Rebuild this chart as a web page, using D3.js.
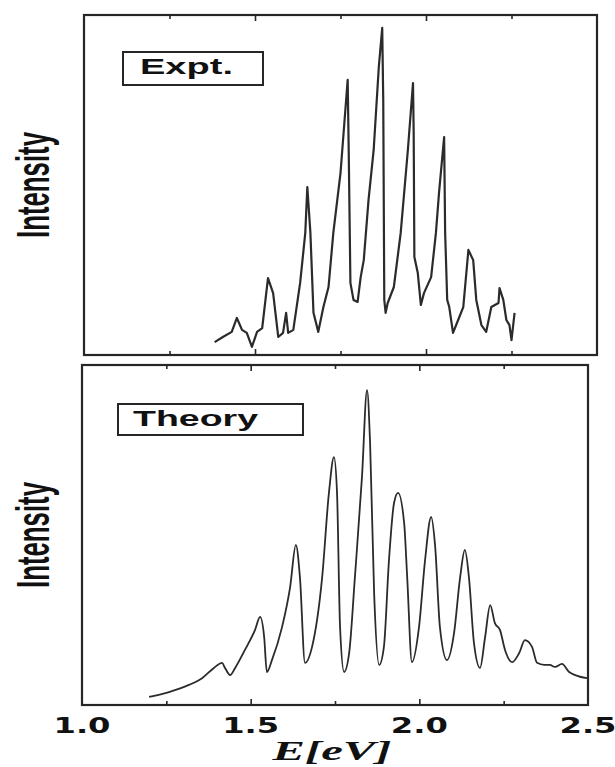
<!DOCTYPE html>
<html>
<head>
<meta charset="utf-8">
<script src="https://cdn.jsdelivr.net/npm/d3@7"></script>
<style>
  html, body { margin: 0; padding: 0; background: #fff; }
  svg { display: block; }
</style>
</head>
<body>
<svg id="chart" width="615" height="767"></svg>
<script>
// Measured spectrum (upper panel): photon energy in eV and normalised intensity
const exptEnergy = [1.382, 1.406, 1.432, 1.447, 1.462, 1.476, 1.491, 1.506, 1.521, 1.538,
  1.553, 1.568, 1.582, 1.591, 1.597, 1.612, 1.632, 1.647, 1.653, 1.662,
  1.671, 1.685, 1.700, 1.715, 1.729, 1.750, 1.759, 1.771, 1.774, 1.779,
  1.788, 1.800, 1.809, 1.818, 1.832, 1.847, 1.862, 1.872, 1.875, 1.878,
  1.882, 1.888, 1.906, 1.926, 1.947, 1.962, 1.964, 1.966, 1.976, 1.985,
  1.994, 2.015, 2.029, 2.038, 2.053, 2.056, 2.062, 2.068, 2.079, 2.094,
  2.109, 2.124, 2.138, 2.147, 2.162, 2.176, 2.191, 2.212, 2.215, 2.226,
  2.235, 2.244, 2.250, 2.259];
const exptIntensity = [0.038, 0.053, 0.068, 0.109, 0.074, 0.065, 0.024, 0.068, 0.079, 0.226,
  0.182, 0.053, 0.065, 0.124, 0.065, 0.074, 0.212, 0.359, 0.494, 0.359,
  0.124, 0.068, 0.141, 0.200, 0.359, 0.535, 0.653, 0.809, 0.603, 0.212,
  0.162, 0.156, 0.229, 0.279, 0.456, 0.603, 0.847, 0.962, 0.750, 0.162,
  0.124, 0.153, 0.200, 0.359, 0.603, 0.800, 0.653, 0.288, 0.241, 0.147,
  0.182, 0.229, 0.359, 0.476, 0.641, 0.359, 0.162, 0.141, 0.065, 0.103,
  0.141, 0.309, 0.279, 0.162, 0.088, 0.068, 0.141, 0.153, 0.197, 0.162,
  0.103, 0.088, 0.044, 0.124];

// Calculated spectrum (lower panel)
const theoryEnergy = [1.199, 1.258, 1.317, 1.356, 1.391, 1.415, 1.424, 1.439, 1.454, 1.483,
  1.513, 1.528, 1.540, 1.548, 1.563, 1.593, 1.617, 1.634, 1.646, 1.661,
  1.682, 1.712, 1.732, 1.747, 1.756, 1.765, 1.777, 1.792, 1.809, 1.830,
  1.845, 1.854, 1.866, 1.881, 1.895, 1.910, 1.925, 1.937, 1.955, 1.964,
  1.978, 1.999, 2.017, 2.035, 2.047, 2.061, 2.082, 2.103, 2.121, 2.135,
  2.147, 2.162, 2.180, 2.195, 2.210, 2.224, 2.239, 2.254, 2.275, 2.296,
  2.313, 2.334, 2.349, 2.370, 2.387, 2.402, 2.423, 2.444, 2.462, 2.497];
const theoryIntensity = [0.024, 0.038, 0.059, 0.079, 0.109, 0.124, 0.109, 0.088, 0.109, 0.162,
  0.221, 0.259, 0.200, 0.097, 0.132, 0.229, 0.347, 0.471, 0.376, 0.124,
  0.171, 0.376, 0.624, 0.729, 0.624, 0.229, 0.097, 0.153, 0.376, 0.671,
  0.926, 0.771, 0.329, 0.118, 0.171, 0.426, 0.594, 0.624, 0.535, 0.376,
  0.126, 0.229, 0.426, 0.553, 0.465, 0.229, 0.132, 0.212, 0.376, 0.456,
  0.376, 0.182, 0.109, 0.200, 0.294, 0.241, 0.221, 0.162, 0.126, 0.153,
  0.191, 0.171, 0.124, 0.118, 0.118, 0.112, 0.121, 0.097, 0.088, 0.079];

const tickLabels = ["1.0", "1.5", "2.0", "2.5"];
const majorTicks = [1.5, 2.0];
const minorTicks = [1.25, 1.75, 2.25];
const xLabel = "E[eV]";
const yLabel = "Intensity";

const svg = d3.select("#chart");
const ink = "#262626";

const panels = [
  { name: "Expt.",  energy: exptEnergy,   value: exptIntensity,   left: 84, right: 597, top: 15,  bottom: 355,
    box: [123, 52, 140, 33], textX: 140, textY: 74, textLen: 93, curve: d3.curveLinear, width: 2.2 },
  { name: "Theory", energy: theoryEnergy, value: theoryIntensity, left: 82, right: 588, top: 365, bottom: 705,
    box: [118, 404, 185, 31], textX: 133, textY: 426, textLen: 125, curve: d3.curveMonotoneX, width: 1.8 }
];

let lastX;
panels.forEach(p => {
  const x = d3.scaleLinear().domain([1.0, 2.5]).range([p.left, p.right]);
  const y = d3.scaleLinear().domain([0, 1]).range([p.bottom, p.top]);
  lastX = x;
  const g = svg.append("g");

  // tick marks on top and bottom edges, pointing inward
  const addTicks = (vals, len) => {
    const bottomAxis = d3.axisBottom(x).tickValues(vals).tickSize(-len).tickFormat("");
    const topAxis = d3.axisTop(x).tickValues(vals).tickSize(-len).tickFormat("");
    [[bottomAxis, p.bottom], [topAxis, p.top]].forEach(([ax, yy]) => {
      const a = g.append("g").attr("transform", `translate(0,${yy})`).call(ax);
      a.select(".domain").remove();
      a.selectAll("line").attr("stroke", ink).attr("stroke-width", 1.6);
    });
  };
  addTicks(majorTicks, 6);
  addTicks(minorTicks, 4);

  // frame
  g.append("rect")
    .attr("x", p.left).attr("y", p.top)
    .attr("width", p.right - p.left).attr("height", p.bottom - p.top)
    .attr("fill", "none").attr("stroke", ink).attr("stroke-width", 2.2);

  // spectrum
  const line = d3.line()
    .x((d, i) => x(p.energy[i]))
    .y((d, i) => y(p.value[i]))
    .curve(p.curve);
  g.append("path")
    .attr("d", line(p.value))
    .attr("fill", "none")
    .attr("stroke", "#2b2b2b")
    .attr("stroke-width", p.width)
    .attr("stroke-linejoin", "round");

  // legend box
  g.append("rect")
    .attr("x", p.box[0]).attr("y", p.box[1])
    .attr("width", p.box[2]).attr("height", p.box[3])
    .attr("fill", "none").attr("stroke", ink).attr("stroke-width", 2);
  g.append("text")
    .attr("x", p.textX).attr("y", p.textY)
    .attr("font-family", "'Liberation Sans', Arial, sans-serif")
    .attr("font-weight", "bold").attr("font-size", 22)
    .attr("textLength", p.textLen).attr("lengthAdjust", "spacingAndGlyphs")
    .attr("fill", "#111")
    .text(p.name);

  // y-axis title
  const cy = (p.top + p.bottom) / 2;
  g.append("text")
    .attr("transform", `translate(49,${cy}) rotate(-90)`)
    .attr("text-anchor", "middle")
    .attr("font-family", "'Liberation Sans Narrow', 'Arial Narrow', 'Liberation Sans', sans-serif")
    .attr("font-weight", "bold").attr("font-size", 47)
    .attr("textLength", 106).attr("lengthAdjust", "spacingAndGlyphs")
    .attr("fill", "#111")
    .text(yLabel);
});

// shared energy labels under the lower panel
svg.append("g").selectAll("text")
  .data(tickLabels)
  .join("text")
  .attr("x", d => lastX(+d))
  .attr("y", 733)
  .attr("text-anchor", "middle")
  .attr("font-family", "'DejaVu Sans', 'Liberation Sans', sans-serif")
  .attr("font-weight", "bold").attr("font-size", 21)
  .attr("textLength", 57).attr("lengthAdjust", "spacingAndGlyphs")
  .attr("fill", "#111")
  .text(d => d);

svg.append("text")
  .attr("x", 332).attr("y", 760)
  .attr("text-anchor", "middle")
  .attr("font-family", "'Liberation Serif', 'DejaVu Serif', serif")
  .attr("font-weight", "bold").attr("font-style", "italic").attr("font-size", 28)
  .attr("textLength", 119).attr("lengthAdjust", "spacingAndGlyphs")
  .attr("fill", "#111")
  .text(xLabel);
</script>
</body>
</html>
